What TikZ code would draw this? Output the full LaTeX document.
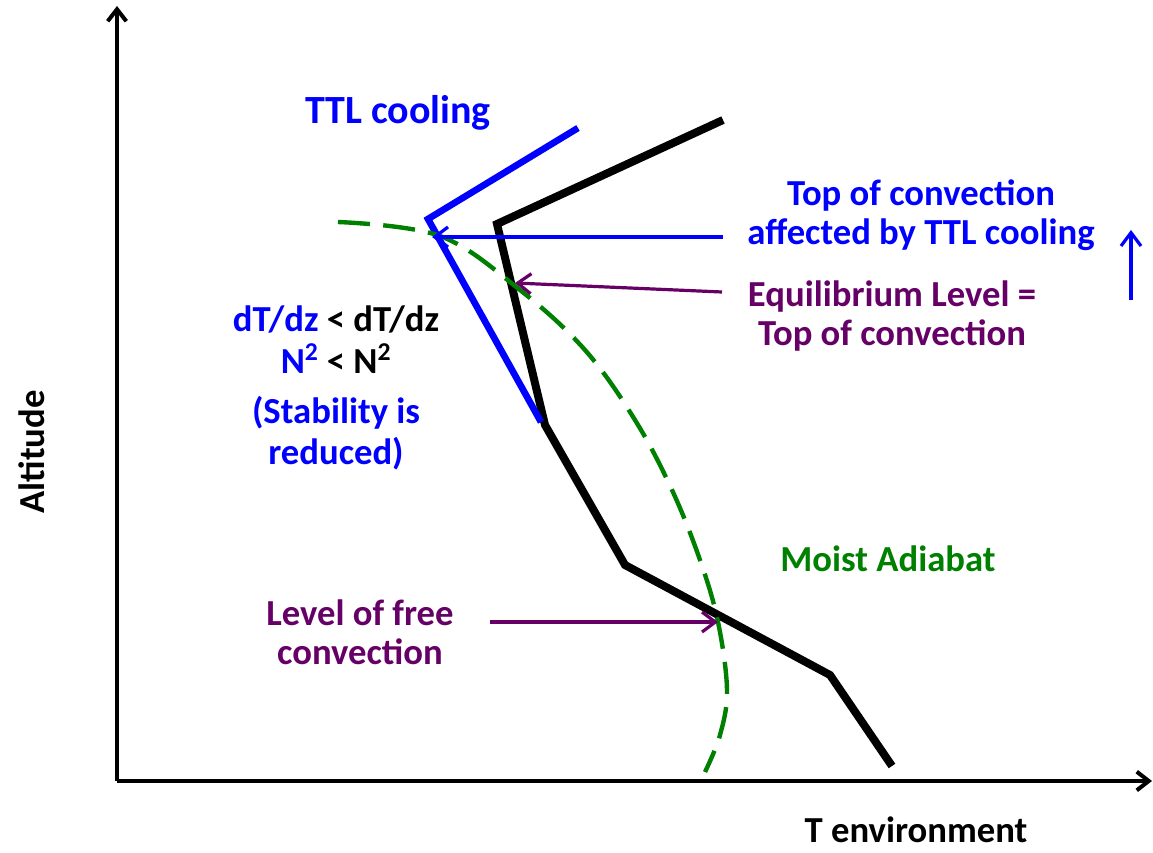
\documentclass[tikz,border=0pt]{standalone}
\usepackage{fontspec}
\setmainfont{Carlito}
\usetikzlibrary{arrows.meta}
\definecolor{ttlblue}{RGB}{0,0,255}
\definecolor{eqpurple}{RGB}{102,0,102}
\definecolor{moistgreen}{RGB}{0,128,0}
\tikzset{
  lbl/.style={font=\bfseries\fontsize{27.5}{29}\selectfont, align=center, inner sep=0pt},
  axis/.style={line width=3pt, -{Straight Barb[length=9pt,width=14pt,line width=3pt]}},
  pointer/.style={line width=2.4pt, -{Straight Barb[length=10pt,width=15pt,line width=2.4pt]}},
  profile/.style={line width=6pt, line join=miter},
  coolprofile/.style={line width=5pt, color=ttlblue, line join=miter},
  adiabat/.style={line width=3.3pt, color=moistgreen, dash pattern=on 24pt off 10pt}
}
\begin{document}
\begin{tikzpicture}[x=0.75pt,y=-0.75pt]
\useasboundingbox (0,0) rectangle (1153,853);
% axes
\coordinate (O) at (117,781);
\coordinate (ytop) at (117,6);
\coordinate (xend) at (1152,781);
\draw[axis] (O) -- (ytop);
\draw[axis] (O) -- (xend);
% environmental profile
\coordinate (e1) at (723,120);
\coordinate (e2) at (497,224);
\coordinate (e3) at (545,425);
\coordinate (e4) at (625,565);
\coordinate (e5) at (830,675);
\coordinate (e6) at (892,766);
\draw[profile] (e1) -- (e2) -- (e3) -- (e4) -- (e5) -- (e6);
% TTL cooled profile
\coordinate (b1) at (578,128);
\coordinate (b2) at (428,219);
\coordinate (b3) at (541,422);
\draw[coolprofile] (b1) -- (b2) -- (b3);
% moist adiabat
\draw[adiabat] plot[smooth, tension=0.6] coordinates {(338,222) (440,236) (520,290) (585,350) (635,420) (672,490) (700,560) (718,622) (727,690) (720,735) (705,772)};
% labels
\node[lbl, text=ttlblue, font=\bfseries\fontsize{30}{32}\selectfont] (ttl) at (398,113) {TTL cooling};
\node[lbl, text=ttlblue] (topaff) at (921,215) {Top of convection\\affected by TTL cooling};
\node[lbl, text=eqpurple] (eq) at (892,316) {Equilibrium Level =\\Top of convection};
\node[lbl, text=moistgreen] (moist) at (888,559) {Moist Adiabat};
\node[lbl, text=eqpurple] (lfc) at (360,632) {Level of free\\convection};
\node[lbl, anchor=base] (stab) at (336,464) {\textcolor{ttlblue}{dT/dz} {<} dT/dz\\[2.5pt]\textcolor{ttlblue}{N\textsuperscript{2}} {<} N\textsuperscript{2}\\[8.5pt]\textcolor{ttlblue}{(Stability is}\\[1.75pt]\textcolor{ttlblue}{reduced)}};
\node[lbl, rotate=90] (alt) at (32,452) {Altitude};
\node[lbl, anchor=base] (tenv) at (916,842) {T environment};
% pointers
\coordinate (topaffTail) at (723,237);
\coordinate (topaffHead) at (432,237);
\draw[pointer, ttlblue] (topaffTail) -- (topaffHead);
\coordinate (eqTail) at (722,292);
\coordinate (eqHead) at (515,283);
\draw[pointer, eqpurple] (eqTail) -- (eqHead);
\coordinate (lfcTail) at (490,622);
\coordinate (lfcHead) at (718,622);
\draw[pointer, eqpurple] (lfcTail) -- (lfcHead);
\coordinate (riseTail) at (1131,300);
\coordinate (riseHead) at (1131,230);
\draw[pointer, ttlblue, line width=3pt] (riseTail) -- (riseHead);
\end{tikzpicture}
\end{document}
